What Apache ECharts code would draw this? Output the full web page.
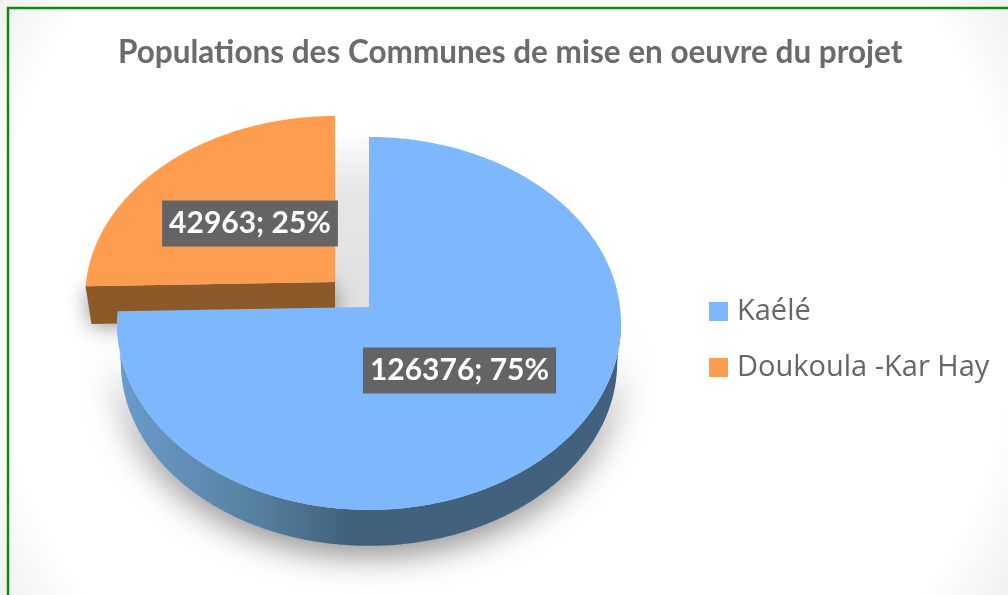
<!DOCTYPE html>
<html><head><meta charset="utf-8">
<style>html,body{margin:0;padding:0;background:#fff}#c{width:1008px;height:595px}</style>
<script src="https://cdn.jsdelivr.net/npm/echarts@6/dist/echarts.min.js"></script>
</head><body><div id="c"></div>
<script>
const titleText = 'Populations des Communes de mise en oeuvre du projet';
const categories = ['Kaélé', 'Doukoula -Kar Hay'];
const values = [126376, 42963];
const colors = ['#7DB8FE', '#FE9C50'];
// Projection of each slice: apex, radii, perspective factor, wall depth, label centre
const views = [
  {vx: 369, vy: 307, rx: 252, ry: 186.5, k: -0.088, depth: 39, shrink: 0.985, lx: 459.5, ly: 370.5},
  {vx: 335, vy: 282, rx: 250, ry: 182, k: -0.088, depth: 38, shrink: 0.976, lx: 250, ly: 223.5}
];
const total = values.reduce((a, b) => a + b, 0);
const FONT = 'Lato, "Open Sans", sans-serif';

function project(view, theta) {
  const u = Math.sin(theta), v = -Math.cos(theta), d = 1 + view.k * v;
  return [
    view.vx + view.rx * u * Math.sqrt(1 - view.k * view.k) / d,
    view.vy - view.k * view.ry + view.ry * (v + view.k) / d
  ];
}
function sink(view, p) {
  return [view.vx + (p[0] - view.vx) * view.shrink,
          view.vy + (p[1] - view.vy) * view.shrink + view.depth];
}
function arc(view, a0, a1) {
  const n = Math.max(8, Math.ceil((a1 - a0) * 90)), pts = [];
  for (let i = 0; i <= n; i++) pts.push(project(view, a0 + (a1 - a0) * i / n));
  return pts;
}
function renderSlice(idx) {
  return function (params, api) {
    const view = views[idx];
    const before = values.slice(0, idx).reduce((a, b) => a + b, 0);
    const a0 = before / total * 2 * Math.PI;
    const a1 = a0 + api.value(0) / total * 2 * Math.PI;
    const outline = arc(view, a0, a1);
    const apex = [view.vx, view.vy];
    const ch = [];
    if (idx === 0) {
      const cy = view.vy - view.k * view.ry;
      const front = outline.filter(p => p[1] >= cy);
      const wall = front.concat(front.map(p => sink(view, p)).reverse());
      ch.push({type: 'polygon', shape: {points: wall}, style: {
        fill: {type: 'linear', x: 0, y: 0, x2: 1, y2: 0, colorStops: [
          {offset: 0, color: '#6B9CCB'}, {offset: 0.28, color: '#55809F'},
          {offset: 0.46, color: '#41617B'}, {offset: 1, color: '#416180'}]},
        shadowBlur: 34, shadowColor: 'rgba(0,0,0,0.5)', shadowOffsetY: 8}});
    } else {
      const edge = outline[0];
      ch.push({type: 'rect', shape: {x: view.vx, y: view.vy - 150, width: 34, height: 176}, style: {
        fill: {type: 'linear', x: 0, y: 0, x2: 0, y2: 1, colorStops: [
          {offset: 0, color: 'rgba(225,225,225,0)'}, {offset: 0.35, color: '#E6E6E6'}, {offset: 1, color: '#E0E0E0'}]}}});
      ch.push({type: 'polygon', shape: {points: [edge, apex, sink(view, apex), sink(view, edge)]}, style: {
        fill: '#8C5A28', shadowBlur: 20, shadowColor: 'rgba(0,0,0,0.4)', shadowOffsetY: 3}});
    }
    ch.push({type: 'polygon', shape: {points: [apex].concat(outline)}, style: {fill: colors[idx]}});
    ch.push({type: 'text', z2: 50, style: {
      x: view.lx, y: view.ly, text: api.value(0) + '; ' + Math.round(api.value(0) / total * 100) + '%',
      align: 'center', verticalAlign: 'middle', fill: '#fff', font: 'bold 30px ' + FONT,
      backgroundColor: '#646464', padding: [8, 7, 8, 7],
      boxShadowBlur: 6, boxShadowColor: 'rgba(0,0,0,0.45)', boxShadowOffsetX: 3, boxShadowOffsetY: 4}});
    return {type: 'group', children: ch};
  };
}
const chart = echarts.init(document.getElementById('c'), null, {renderer: 'canvas'});
chart.setOption({
  animation: false,
  backgroundColor: '#fff',
  color: colors,
  title: {text: titleText, left: 113, top: 32,
    textStyle: {fontFamily: FONT, fontWeight: 'bold', fontSize: 31.5, color: '#6B6B6B'}},
  legend: {orient: 'vertical', left: 704, top: 292, itemWidth: 19, itemHeight: 19, itemGap: 27,
    icon: 'rect', data: categories,
    textStyle: {fontFamily: '"Open Sans", sans-serif', fontSize: 29, color: '#666', padding: [2, 0, 0, 4]}},
  graphic: {elements: [
    {type: 'rect', z: -10, shape: {x: 0, y: 0, width: 1008, height: 595}, style: {
      fill: {type: 'radial', x: 0.5, y: 0.5, r: 1, colorStops: [
        {offset: 0, color: '#fff'}, {offset: 0.86, color: '#fff'}, {offset: 1, color: '#EFEFEF'}]}}},
    {type: 'rect', z: 100, silent: true, shape: {x: 8, y: 8, width: 1100, height: 700},
      style: {fill: 'none', stroke: '#0E8C0E', lineWidth: 2.5}}
  ]},
  series: categories.map((name, i) => ({
    type: 'custom', name, z: 5 - i, coordinateSystem: 'none', silent: true,
    renderItem: renderSlice(i), encode: {},
    data: [[values[i]]]
  }))
});
</script></body></html>
